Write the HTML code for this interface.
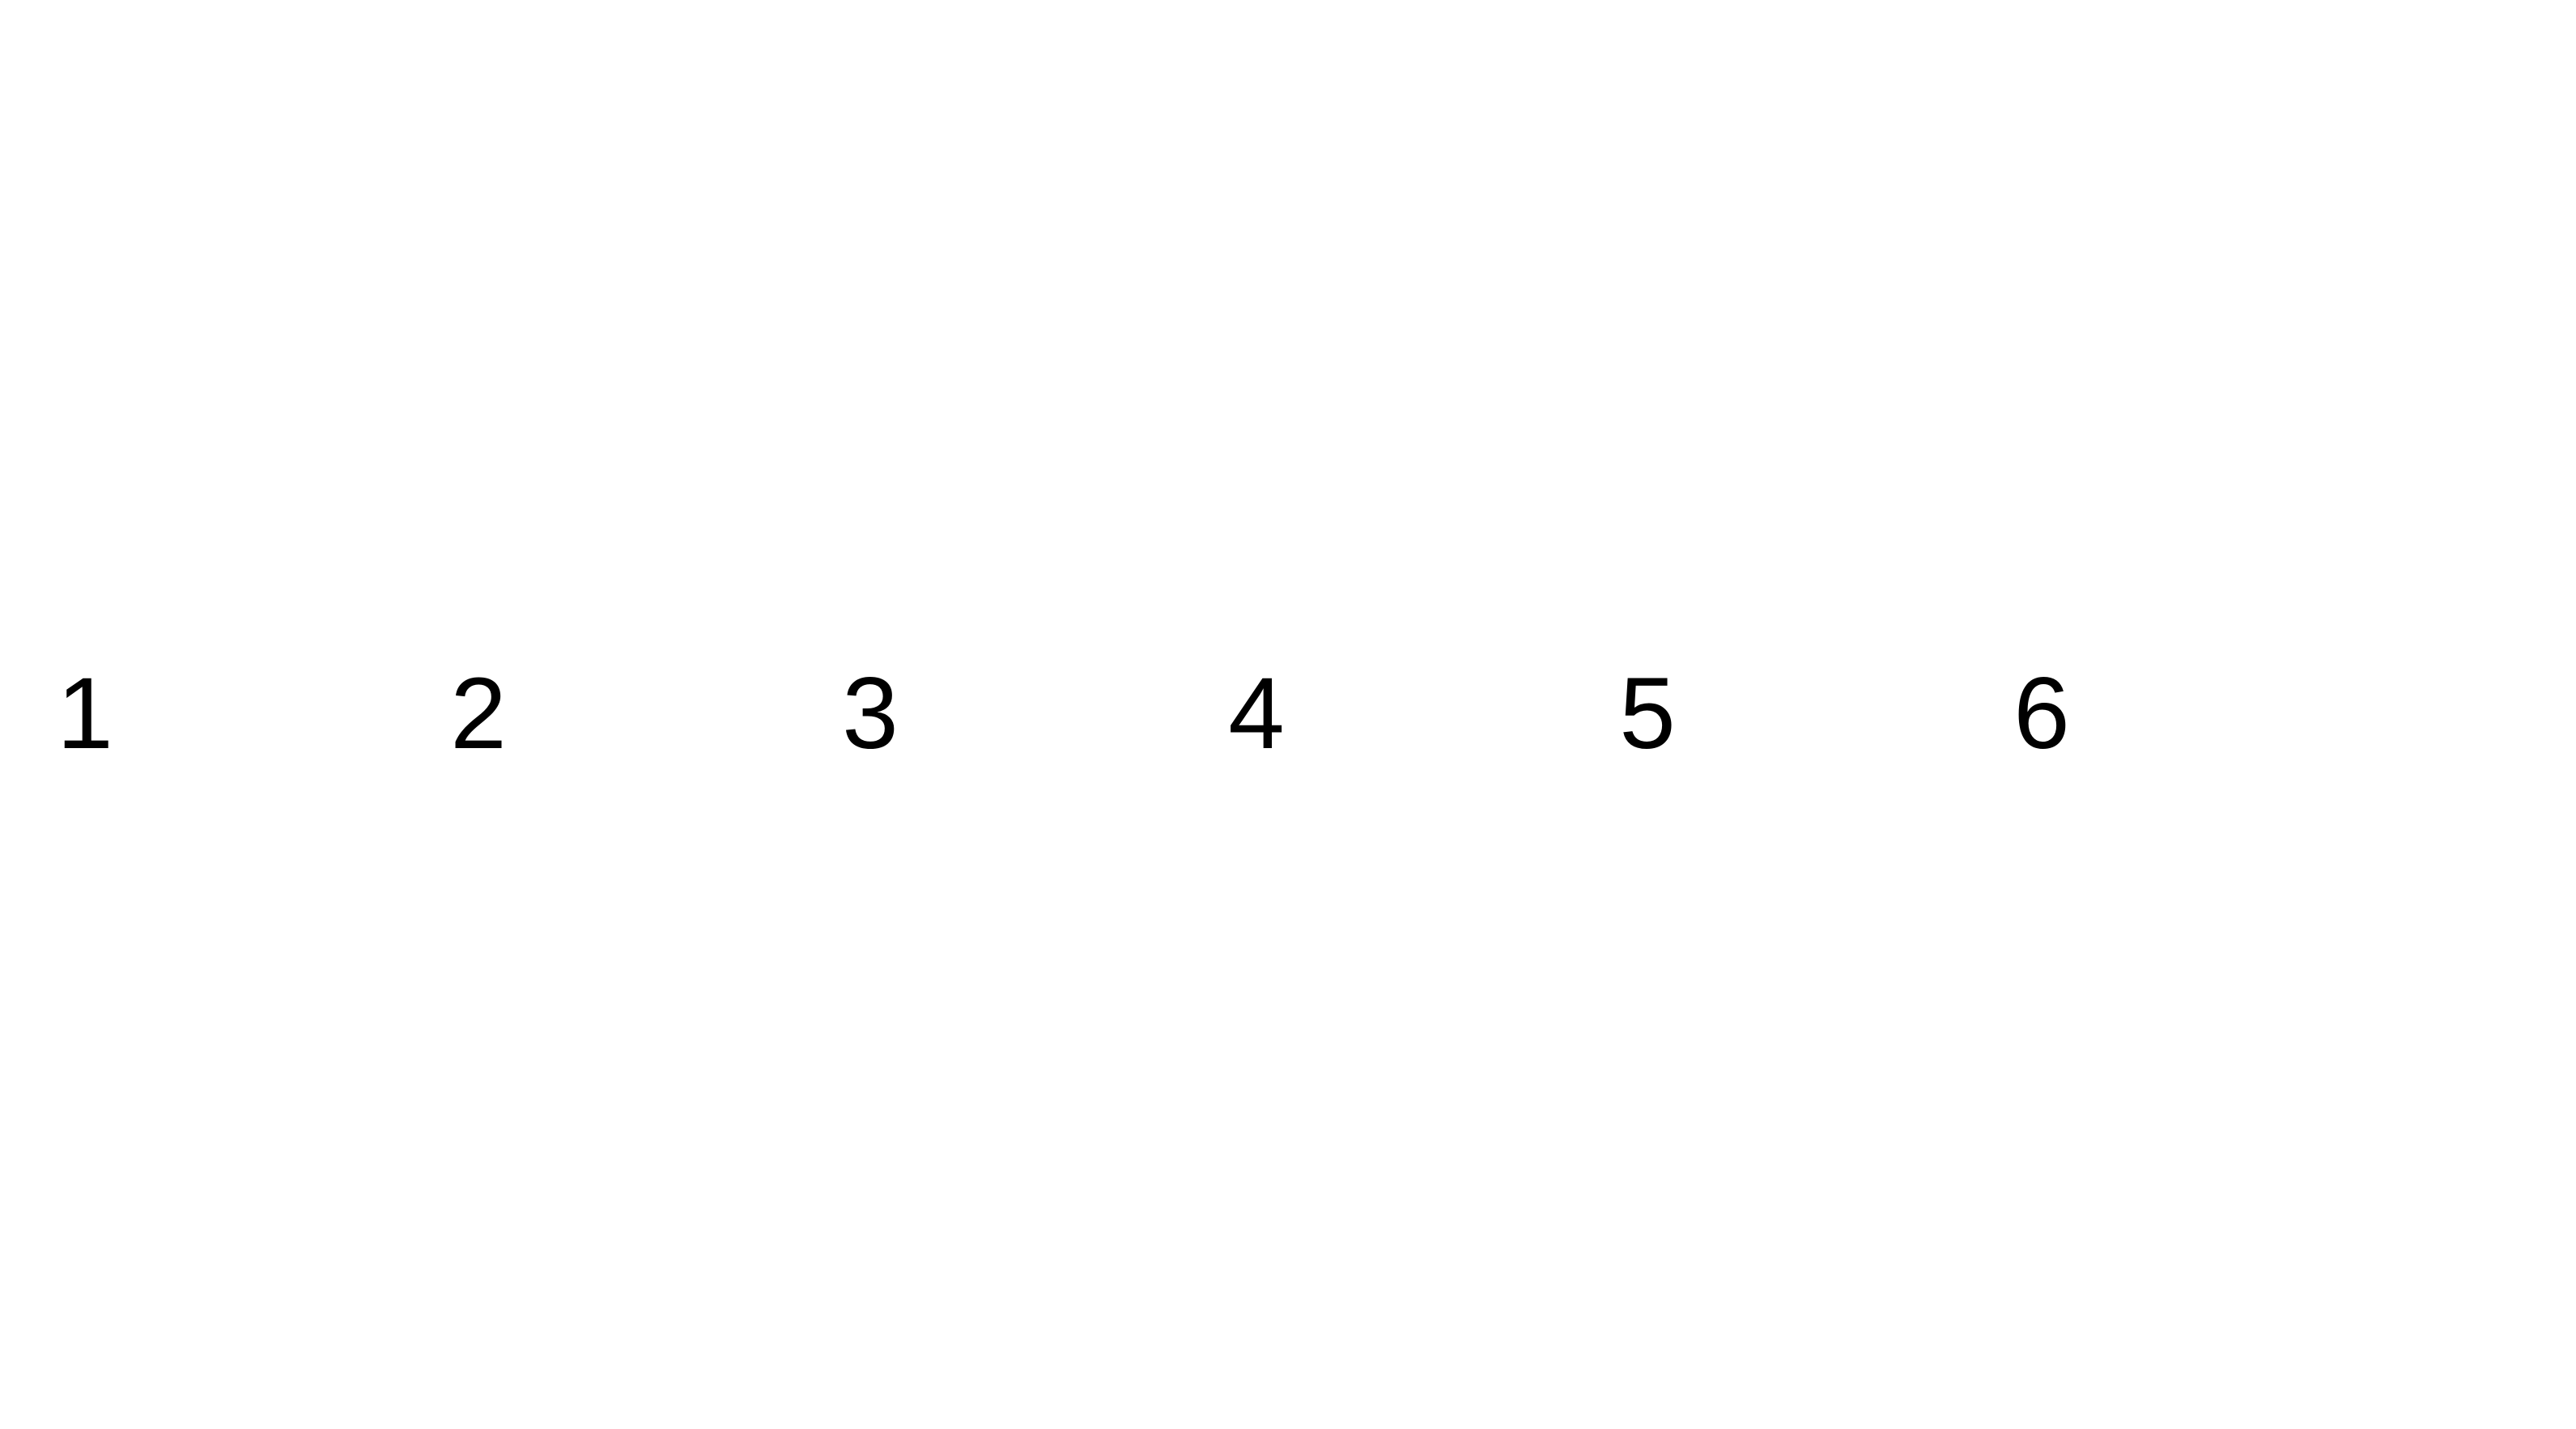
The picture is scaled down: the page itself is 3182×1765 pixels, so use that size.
<!DOCTYPE html>
<html><head><style>
html,body{margin:0;padding:0;background:#fff;}
body{width:3182px;height:1765px;position:relative;overflow:hidden;}
.d{position:absolute;top:819px;width:200px;text-align:center;font-family:"Liberation Sans",sans-serif;font-size:125px;line-height:125px;color:#000;}
</style></head><body>
<div class="d" style="left:5px">1</div>
<div class="d" style="left:491px">2</div>
<div class="d" style="left:975px">3</div>
<div class="d" style="left:1452px">4</div>
<div class="d" style="left:1935px">5</div>
<div class="d" style="left:2422px">6</div>
</body></html>
